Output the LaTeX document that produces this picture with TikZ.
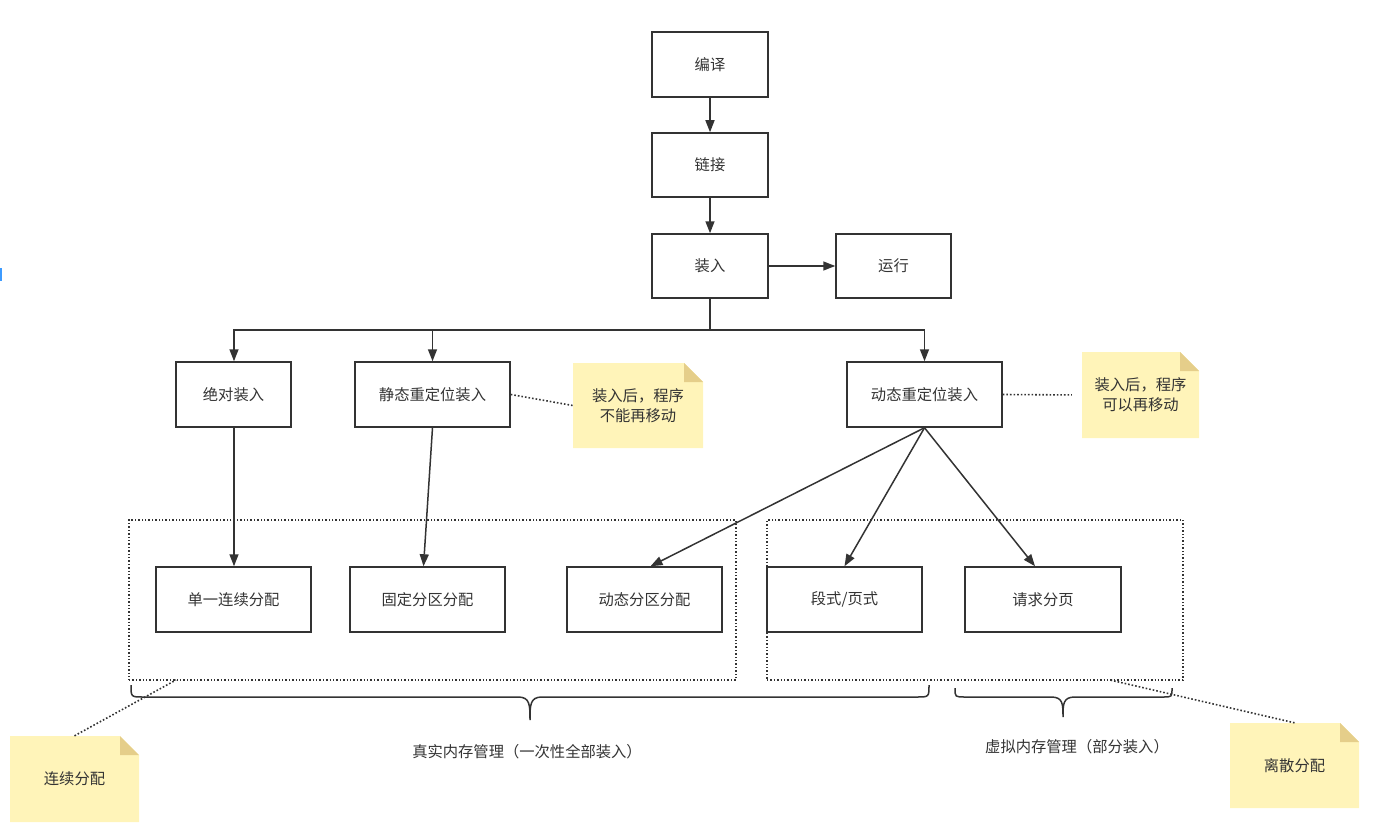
\documentclass[tikz,border=0pt]{standalone}
\usepackage{fontspec}
\setmainfont{Noto Sans CJK SC}
\usetikzlibrary{arrows.meta,calc}
\definecolor{ln}{HTML}{333333}
\definecolor{notefill}{HTML}{FFF4B9}
\definecolor{notefold}{HTML}{E5CE8A}
\definecolor{selblue}{HTML}{3D9BFF}
\newcommand\mybox[6]{\node[box,minimum width={#4-#2},minimum height={#5-#3}] (#1) at ({(#2+#4)/2},{(#3+#5)/2}) {#6};}
\newcommand\mynote[6]{%
  \fill[notefill] (#2,#3) -- ({#4-19},#3) -- (#4,{#3+19}) -- (#4,#5) -- (#2,#5) -- cycle;
  \fill[notefold] ({#4-19},#3) -- (#4,{#3+19}) -- ({#4-19},{#3+19}) -- cycle;
  \node[notetext,minimum width={#4-#2},minimum height={#5-#3}] (#1) at ({(#2+#4)/2},{(#3+#5)/2}) {#6};}
\begin{document}
\begin{tikzpicture}[x=1pt,y=-1pt,
  font=\fontsize{15.3}{20}\selectfont,
  box/.style={draw=ln,line width=1.5pt,text=ln,inner sep=0pt},
  notetext/.style={inner sep=0pt,text=ln,align=center},
  frame/.style={draw=ln,line width=1.4pt,dotted,inner sep=0pt},
  link/.style={draw=ln,line width=1.6pt,dotted},
  wire/.style={draw=ln,line width=1.5pt},
  arr/.style={wire,-{Triangle[length=12pt,width=9pt]}},
  brace/.style={draw=ln,line width=1.5pt},
  lbl/.style={text=ln,inner sep=0pt}]
\useasboundingbox (0,0) rectangle (1386,832);
\fill[selblue] (0,268) rectangle (1.5,281);
% frames
\node[frame,minimum width=607,minimum height=160] (lf) at (432.5,600) {};
\node[frame,minimum width=416,minimum height=160] (rf) at (975,600) {};
% boxes
\mybox{bianyi}{652}{32}{768}{97}{编译}
\mybox{lianjie}{652}{133}{768}{197}{链接}
\mybox{zhuangru}{652}{234}{768}{298}{装入}
\mybox{yunxing}{836}{234}{951}{298}{运行}
\mybox{juedui}{176}{362}{291}{427}{绝对装入}
\mybox{jingtai}{355}{362}{510}{427}{静态重定位装入}
\mybox{dongtai}{847}{362}{1002}{427}{动态重定位装入}
\mybox{danyi}{156}{567}{311}{632}{单一连续分配}
\mybox{guding}{350}{567}{505}{632}{固定分区分配}
\mybox{dtfq}{567}{567}{722}{632}{动态分区分配}
\mybox{duanshi}{767}{567}{922}{632}{段式/页式}
\mybox{qingqiu}{965}{567}{1121}{632}{请求分页}
% notes
\mynote{note1}{573}{363}{703}{448}{装入后，程序\\不能再移动}
\mynote{note2}{1082}{352}{1199}{438}{装入后，程序\\可以再移动}
\mynote{note3}{10}{736}{139}{822}{连续分配}
\mynote{note4}{1230}{723}{1359}{808}{离散分配}
% arrows
\draw[arr] (bianyi) -- (lianjie);
\draw[arr] (lianjie) -- (zhuangru);
\draw[arr] (zhuangru.east) -- (yunxing.west);
\coordinate (bus) at (710,330);
\draw[wire] (zhuangru.south) -- (bus);
\draw[arr] (bus) -| ([xshift=0.5pt]juedui.north);
\draw[arr] (bus) -| (jingtai.north);
\draw[arr] (bus) -| (dongtai.north);
\draw[arr] ([xshift=0.5pt]juedui.south) -- ([xshift=0.5pt]danyi.north -| juedui);
\draw[arr] (jingtai.south) -- ([xshift=-4pt]guding.north);
\draw[arr] (dongtai.south) -- ([xshift=6pt]dtfq.north);
\draw[arr] (dongtai.south) -- (duanshi.north);
\draw[arr] (dongtai.south) -- ([xshift=-8pt]qingqiu.north);
% dotted links
\draw[link] (jingtai.east) -- (note1.west);
\draw[link,shorten >=10pt] (dongtai.east) -- (note2.west);
\coordinate (lfpt) at (176,680);
\coordinate (rfpt) at (1110,680);
\draw[link] (note3.north) -- (lfpt);
\draw[link] (note4.north) -- (rfpt);
% braces
\draw[brace] (131,685) .. controls (131,697) .. (143,697) -- (518,697)
  .. controls (530,697) and (530,705) .. (530,720)
  .. controls (530,705) and (530,697) .. (542,697) -- (917,697)
  .. controls (929,697) .. (929,685);
\draw[brace] (955,688) .. controls (955,697) .. (965,697) -- (1051,697)
  .. controls (1063,697) and (1063,704) .. (1063,717)
  .. controls (1063,704) and (1063,697) .. (1075,697) -- (1163,697)
  .. controls (1172,697) .. (1172,688);
\node[lbl] (real) at (527,752) {真实内存管理（一次性全部装入）};
\node[lbl] (virt) at (1077,747) {虚拟内存管理（部分装入）};
\end{tikzpicture}
\end{document}
